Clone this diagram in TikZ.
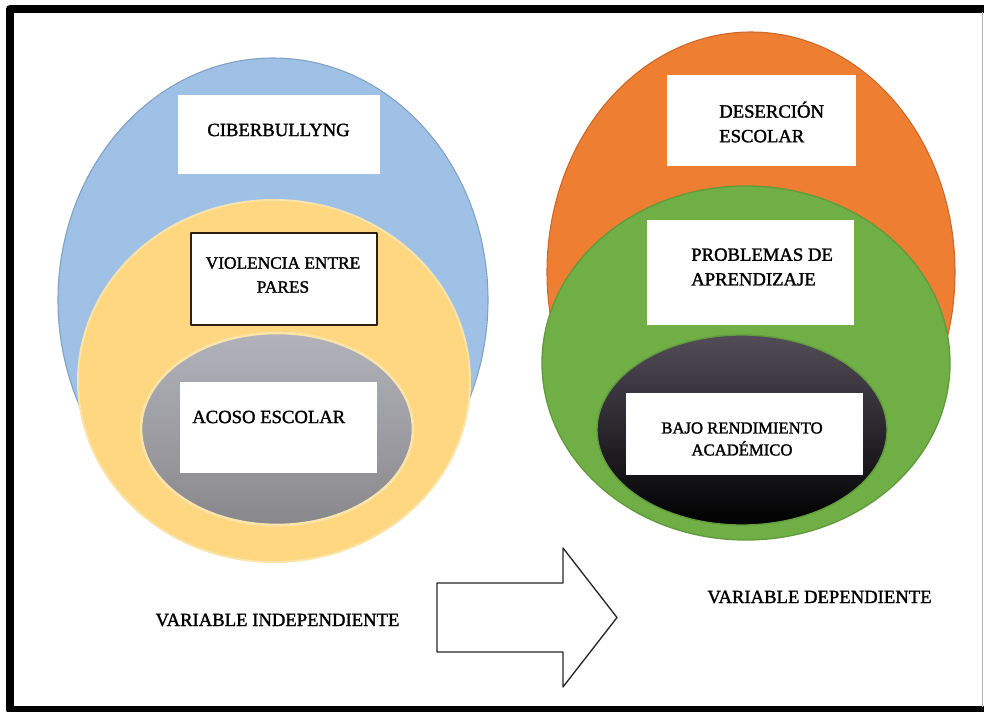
\documentclass[tikz,border=0pt]{standalone}
\usepackage{fontspec}
\setmainfont{Liberation Serif}
\newfontfamily\gruesa{Liberation Serif}[FakeBold=1.6]
\definecolor{azul}{RGB}{158,193,229}
\definecolor{azulborde}{RGB}{128,160,200}
\definecolor{amarillo}{RGB}{254,215,128}
\definecolor{amarilloborde}{RGB}{250,228,170}
\definecolor{grisclaro}{RGB}{178,178,186}
\definecolor{grisoscuro}{RGB}{136,136,140}
\definecolor{naranja}{RGB}{238,126,50}
\definecolor{naranjaborde}{RGB}{205,105,40}
\definecolor{verde}{RGB}{112,174,70}
\definecolor{verdeborde}{RGB}{98,155,60}
\definecolor{negroclaro}{RGB}{82,76,88}
\begin{document}
\begin{tikzpicture}[x=0.75pt, y=-0.75pt, line join=round,
    caja/.style={fill=white, inner sep=0pt, outer sep=0pt},
    texto/.style={font=\gruesa\fontsize{13}{18}\selectfont, inner sep=0pt, align=left},
    grande/.style={font=\gruesa\fontsize{14}{18.5}\selectfont},
    etiquetavar/.style={font=\gruesa\fontsize{14}{17}\selectfont, inner sep=0pt}]
      \useasboundingbox (0,0) rectangle (984,712);

      \coordinate (azul) at (273,300);
      \coordinate (amarillo) at (274,381);
      \coordinate (gris) at (277,429);

      \coordinate (naranja) at (751,272);
      \coordinate (verde) at (746,363);
      \coordinate (negro) at (742,430);

      \draw [fill=azul, draw=azulborde, line width=0.8pt] (azul) ellipse [x radius=215, y radius=242];
      \draw [fill=amarillo, draw=amarilloborde, line width=1.5pt] (amarillo) ellipse [x radius=196, y radius=181];
      \draw [top color=grisclaro, bottom color=grisoscuro, draw=amarilloborde, line width=2pt] (gris) ellipse [x radius=136, y radius=96];

      \draw [fill=naranja, draw=naranjaborde, line width=0.8pt] (naranja) ellipse [x radius=204, y radius=240];
      \draw [fill=verde, draw=verdeborde, line width=1pt] (verde) ellipse [x radius=204, y radius=177];
      \draw [top color=negroclaro, middle color=black, bottom color=black, draw=verdeborde, line width=1pt] (negro) ellipse [x radius=145, y radius=95];

      \node [caja, minimum width=151.5pt, minimum height=59.25pt] (ciber) at (279,134.5) {};
      \node [caja, draw=black!75!brown, line width=0.9pt, minimum width=139.5pt, minimum height=69pt] (violencia) at (284,279) {};
      \node [caja, minimum width=147.75pt, minimum height=68.25pt] (acoso) at (278.5,427.5) {};

      \node [caja, minimum width=141.75pt, minimum height=68.25pt] (desercion) at (761.5,120.5) {};
      \node [caja, minimum width=155.25pt, minimum height=78.75pt] (problemas) at (750.5,272.5) {};
      \node [caja, minimum width=177.75pt, minimum height=61.5pt] (bajo) at (744.5,434) {};

      \node [texto, grande] (tciber) at (278.5,130) {CIBERBULLYNG};
      \node [texto, align=center] (tviolencia) at (283,275) {VIOLENCIA ENTRE\\PARES};
      \node [texto, grande, anchor=west] (tacoso) at (192,417) {ACOSO ESCOLAR};

      \node [texto, grande, anchor=west] (tdesercion) at (719,122) {DESERCIÓN\\ESCOLAR};
      \node [texto, grande, anchor=west] (tproblemas) at (691,267) {PROBLEMAS DE\\APRENDIZAJE};
      \node [texto, align=center, font=\gruesa\fontsize{12.5}{16.5}\selectfont] (tbajo) at (742,439) {BAJO RENDIMIENTO\\ACADÉMICO};

      \node [etiquetavar] (independiente) at (277.5,620) {VARIABLE INDEPENDIENTE};
      \node [etiquetavar] (dependiente) at (819.5,597) {VARIABLE DEPENDIENTE};

      \draw [fill=white, draw=black!85, line width=1pt] (437,583) -- (563,583) -- (563,548) -- (617,617.5) -- (563,687) -- (563,652) -- (437,652) -- cycle;

      \draw [line width=6pt] (990,9) -- (10,9) -- (10,710) -- (990,710);
      \draw [gray!60, line width=0.8pt] (982.5,12) -- (982.5,707);
    \end{tikzpicture}
\end{document}
